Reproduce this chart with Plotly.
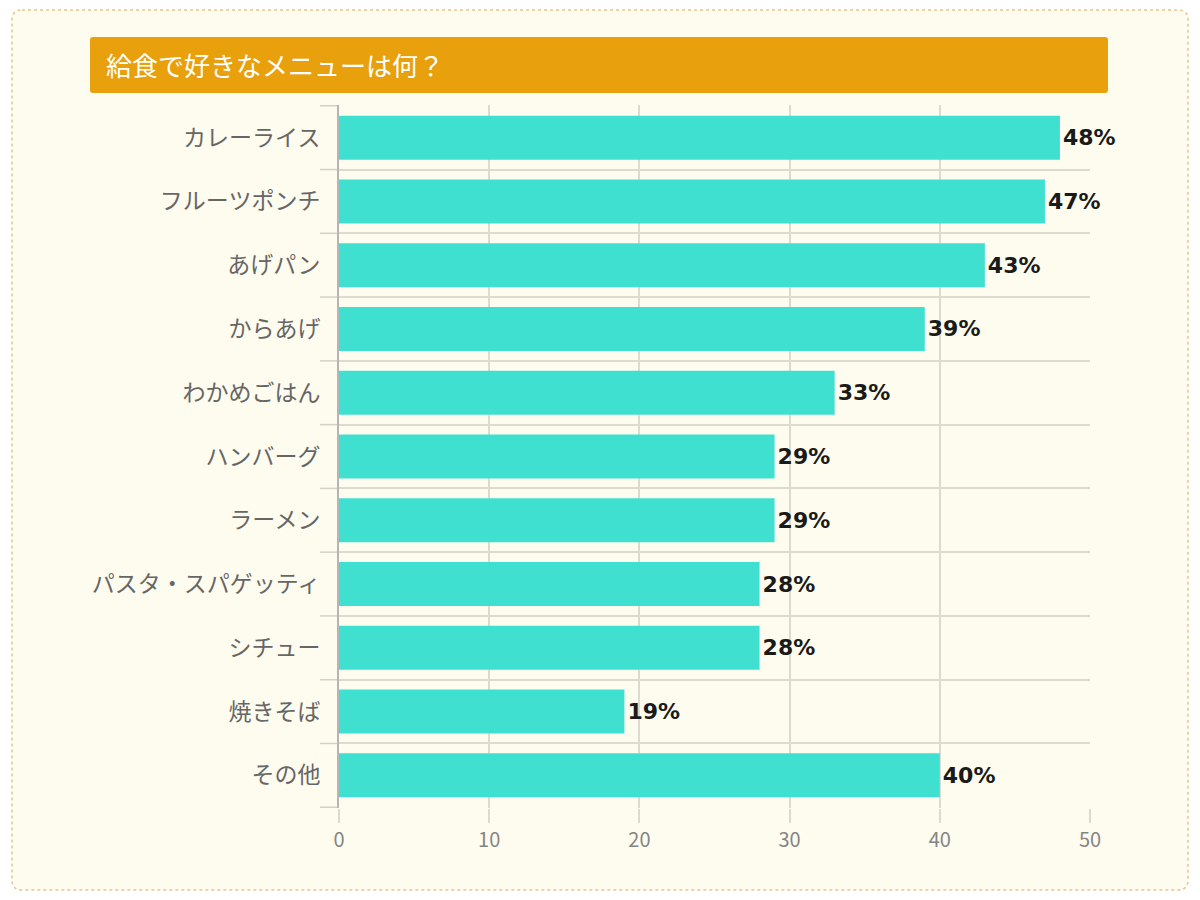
import plotly.graph_objects as go

categories = ["カレーライス", "フルーツポンチ", "あげパン", "からあげ", "わかめごはん",
              "ハンバーグ", "ラーメン", "パスタ・スパゲッティ", "シチュー", "焼きそば", "その他"]
values = [48, 47, 43, 39, 33, 29, 29, 28, 28, 19, 40]
x_ticks = [0, 10, 20, 30, 40, 50]
title_text = "給食で好きなメニューは何？"

OFF = 8  # page body margin
W, H = 1200 - OFF, 900 - OFF
# plot area in screen pixels
PX0, PX1, PY0, PY1 = 339, 1090, 105, 808
L, R, T, B = PX0 - OFF, 1200 - PX1, PY0 - OFF, 900 - PY1
PW, PH = PX1 - PX0, PY1 - PY0
YTICKLEN = 19

def px(x):
    return (x - PX0) / PW

def py(y):
    return (PY1 - y) / PH

def rounded_path(x0, y0, x1, y1, r):
    pts = [
        f"M {px(x0 + r)},{py(y0)}",
        f"L {px(x1 - r)},{py(y0)}",
        f"Q {px(x1)},{py(y0)} {px(x1)},{py(y0 + r)}",
        f"L {px(x1)},{py(y1 - r)}",
        f"Q {px(x1)},{py(y1)} {px(x1 - r)},{py(y1)}",
        f"L {px(x0 + r)},{py(y1)}",
        f"Q {px(x0)},{py(y1)} {px(x0)},{py(y1 - r)}",
        f"L {px(x0)},{py(y0 + r)}",
        f"Q {px(x0)},{py(y0)} {px(x0 + r)},{py(y0)}",
        "Z",
    ]
    return " ".join(pts)

fig = go.Figure()
fig.add_trace(go.Bar(
    y=categories, x=values, orientation="h",
    marker=dict(color="#40E0D0", line=dict(width=0)),
    texttemplate="%{x}%", textposition="outside",
    textfont=dict(family="DejaVu Sans", size=22, color="#1a1a1a", weight="bold"),
    cliponaxis=False, hoverinfo="skip",
))

fig.update_layout(
    width=W, height=H,
    margin=dict(l=L, r=R, t=T, b=B),
    paper_bgcolor="#FFFFFF",
    plot_bgcolor="rgba(0,0,0,0)",
    bargap=0.31,
    showlegend=False,
    font=dict(family="Noto Sans CJK JP", color="#666666"),
)
fig.update_xaxes(
    range=[0, 50], tickvals=x_ticks, showgrid=True, gridcolor="#DDDBCF", gridwidth=1.5,
    ticks="outside", ticklen=14, tickcolor="#DDDBCF", tickwidth=1.5,
    tickfont=dict(family="Noto Sans CJK JP", size=20, color="#858585"),
    zeroline=False, showline=False, fixedrange=True,
)
fig.update_yaxes(
    autorange="reversed", tickson="boundaries", showgrid=True, gridcolor="#DDDBCF", gridwidth=1.5,
    ticks="", ticklabelstandoff=12,
    tickfont=dict(family="Noto Sans CJK JP", size=23, color="#666666"),
    showline=True, linecolor="#B5B5B5", linewidth=2,
    zeroline=False, fixedrange=True,
)

shapes = [
    dict(type="path", xref="paper", yref="paper", layer="below",
         path=rounded_path(12, 10, 1188, 890, 10),
         fillcolor="#FEFCEE", line=dict(color="#E6C58C", width=1.5, dash="dot")),
    dict(type="path", xref="paper", yref="paper", layer="above",
         path=rounded_path(90, 37, 1108, 93, 3),
         fillcolor="#E8A00C", line=dict(width=0)),
]
# category boundary tick marks to the left of the axis
for i in range(len(categories) + 1):
    shapes.append(dict(type="line", xref="paper", yref="y", layer="below",
                       x0=-YTICKLEN / PW, x1=0, y0=i - 0.5, y1=i - 0.5,
                       line=dict(color="#D5D2C5", width=1.5)))
fig.update_layout(shapes=shapes)
fig.add_annotation(
    xref="paper", yref="paper", x=px(104), y=py(65), xanchor="left", yanchor="middle",
    text=title_text, showarrow=False,
    font=dict(family="Noto Sans CJK JP", size=26, color="#FFFFFF"),
)

fig.write_html("out.html")
